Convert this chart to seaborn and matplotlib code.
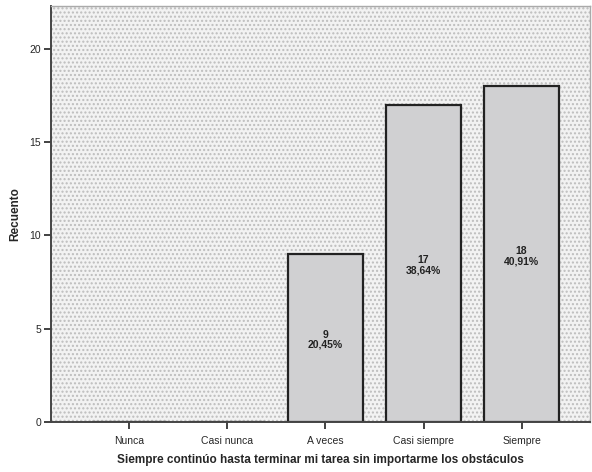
import matplotlib
matplotlib.use("Agg")
import matplotlib.pyplot as plt
import seaborn as sns
import pandas as pd
from matplotlib.patches import Rectangle

categories = ["Nunca", "Casi nunca", "A veces", "Casi siempre", "Siempre"]
counts = [0, 0, 9, 17, 18]
percent_labels = ["", "", "20,45%", "38,64%", "40,91%"]
yticks = [0, 5, 10, 15, 20]

df = pd.DataFrame({"cat": categories, "n": counts})

sns.set_style("white")
plt.rcParams["font.family"] = ["Liberation Sans", "DejaVu Sans"]

fig = plt.figure(figsize=(5.92, 4.72), dpi=100)
ax = fig.add_axes([0.086, 0.106, 0.911, 0.881])

# dotted background
ax.set_facecolor("#f2f2f2")
bg = Rectangle((0, 0), 1, 1, transform=ax.transAxes, facecolor="none",
               edgecolor="#bdbdbd", hatch="....", linewidth=0, zorder=0)
ax.add_patch(bg)

sns.barplot(data=df, x="cat", y="n", order=categories, color="#d0d0d2",
            width=0.77, edgecolor="#222222", linewidth=1.6, saturation=1,
            ax=ax, zorder=2)

for i, (c, p) in enumerate(zip(counts, percent_labels)):
    if c > 0:
        ax.text(i, c / 2 - 0.1, f"{c}\n{p}", ha="center", va="center",
                fontsize=7.5, fontweight="bold", color="#222222",
                linespacing=1.0, zorder=3)

ax.set_xlim(-0.8, 4.7)
ax.set_ylim(0, 22.3)
ax.set_yticks(yticks)
ax.tick_params(axis="both", which="major", direction="out", length=5, width=1.3,
               color="#333333", labelsize=7.5, pad=2, bottom=True, left=True)
ax.tick_params(axis="x", pad=5)

ax.set_xlabel("Siempre continúo hasta terminar mi tarea sin importarme los obstáculos",
              fontsize=8.5, fontweight="bold", labelpad=6)
ax.set_ylabel("Recuento", fontsize=8.5, fontweight="bold", labelpad=6)

for s in ["left", "bottom"]:
    ax.spines[s].set_color("#444444")
    ax.spines[s].set_linewidth(1.4)
for s in ["top", "right"]:
    ax.spines[s].set_color("#aaaaaa")
    ax.spines[s].set_linewidth(1.0)

fig.savefig("out.png", dpi=100)
